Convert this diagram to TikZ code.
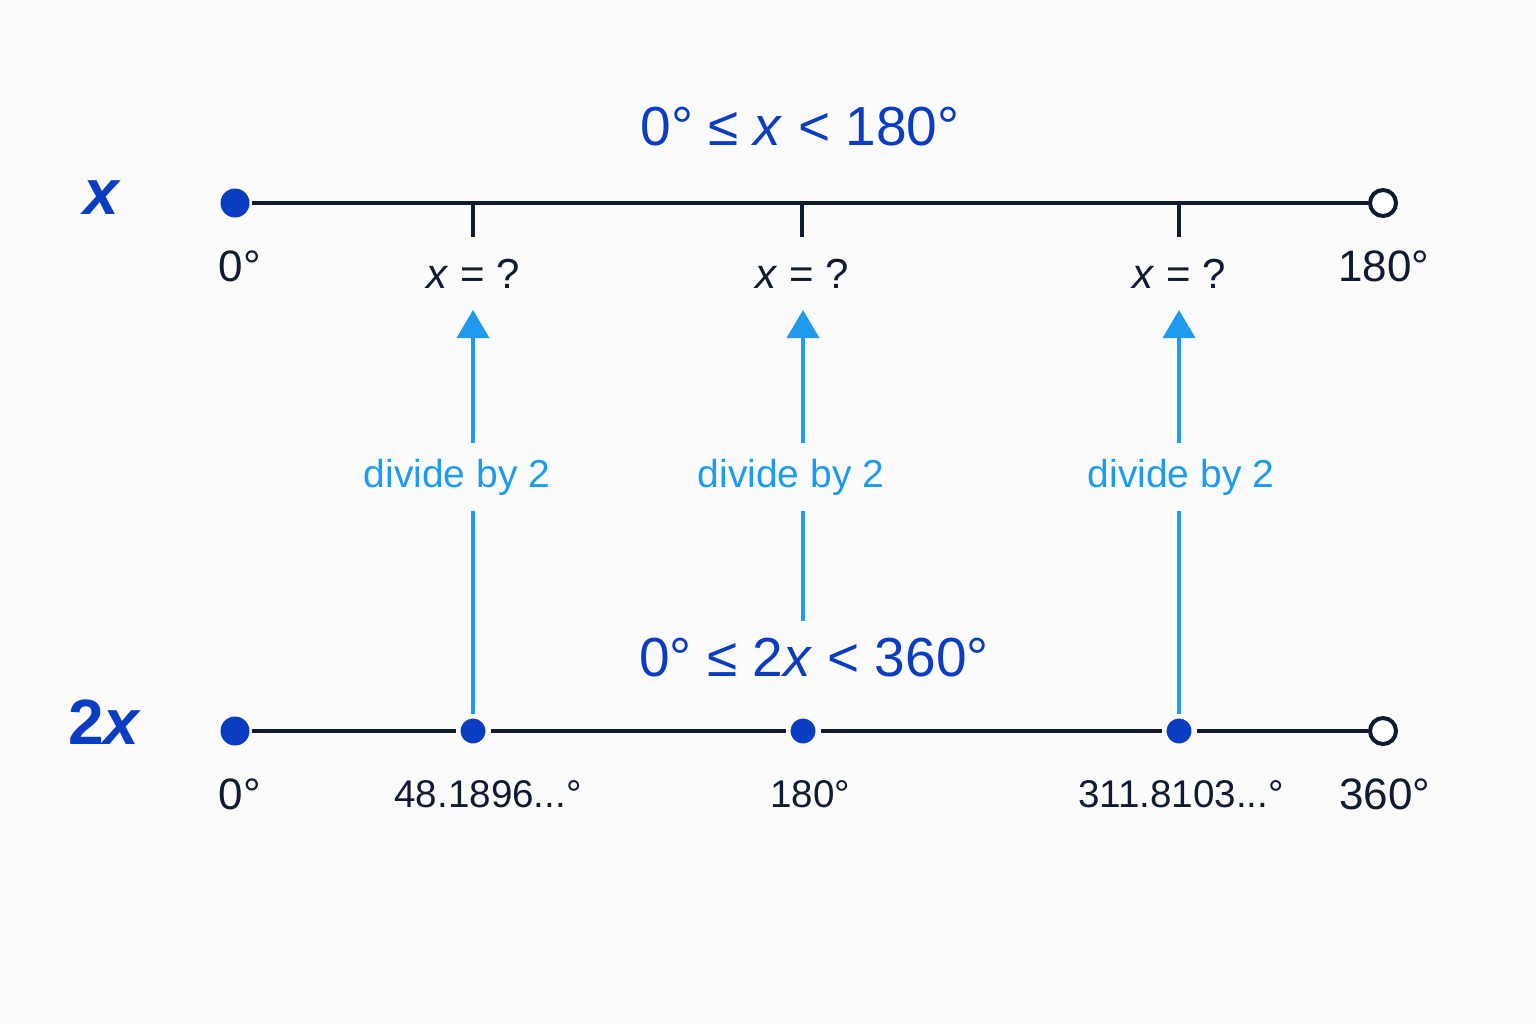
\documentclass[tikz,border=0pt]{standalone}
\usepackage{fontspec}
\setmainfont{Liberation Sans}
\usetikzlibrary{arrows.meta}
\definecolor{ink}{HTML}{101A30}
\definecolor{royal}{HTML}{0B3DC2}
\definecolor{sky}{HTML}{1E9BEF}
\definecolor{paper}{HTML}{FBFBFB}
\begin{document}
\begin{tikzpicture}[x=0.5pt,y=-0.5pt,>={Triangle[length=14pt,width=16pt]},line width=2pt]
  \tikzstyle{dot}=[circle, fill=royal, inner sep=0pt, minimum size=14.5pt]
  \tikzstyle{hit}=[circle, fill=royal, draw=paper, line width=2.5pt, inner sep=0pt, minimum size=15pt]
  \tikzstyle{hole}=[circle, draw=ink, fill=white, line width=2pt, inner sep=0pt, minimum size=13pt]
  \tikzstyle{limits}=[text=royal, font=\fontsize{27.5}{32}\selectfont]
  \tikzstyle{varname}=[text=royal, font=\fontsize{32}{36}\selectfont\bfseries]
  \tikzstyle{deg}=[text=ink, font=\fontsize{22}{26}\selectfont]
  \tikzstyle{rootlab}=[text=ink, font=\fontsize{19.3}{24}\selectfont]
  \tikzstyle{ask}=[text=ink, font=\fontsize{21}{25}\selectfont]
  \tikzstyle{halve}=[text=sky, font=\fontsize{19.5}{23}\selectfont, inner ysep=6.8pt]
  \fill[paper] (0,0) rectangle (1536,1024);
  \useasboundingbox (0,0) rectangle (1536,1024);

  % the x line
  \node[limits] (top) at (800,127) {0° ≤ \textit{x} < 180°};
  \node[varname] (xname) at (102,198) {\textit{x}};
  \node[dot] (z0) at (235,203) {};
  \node[hole] (e0) at (1383,203) {};
  \draw[ink] (z0) -- (e0);
  \node[deg] (z0lab) at (240,266) {0°};
  \node[deg] (e0lab) at (1384,266) {180°};
  \foreach \n/\px in {1/473,2/802,3/1179} {
    \coordinate (k\n) at (\px,203);
    \draw[ink] (k\n) -- ++(0,34);
    \node[ask] (q\n) at (\px,274) {\textit{x} = ?};
  }

  % the 2x line
  \node[limits, inner ysep=8pt] (low) at (814,658) {0° ≤ 2\textit{x} < 360°};
  \node[varname] (twoxname) at (105,722) {2\textit{x}};
  \node[dot] (z1) at (235,731) {};
  \node[hit] (m1) at (473,731) {};
  \node[hit] (m2) at (803,731) {};
  \node[hit] (m3) at (1179,731) {};
  \node[hole] (e1) at (1383,731) {};
  \draw[ink] (z1) -- (m1) -- (m2) -- (m3) -- (e1);
  \node[deg] (z1lab) at (240,794) {0°};
  \node[rootlab] (m1lab) at (488,794) {48.1896...°};
  \node[rootlab] (m2lab) at (810,794) {180°};
  \node[rootlab] (m3lab) at (1181,794) {311.8103...°};
  \node[deg] (e1lab) at (1385,794) {360°};

  % divide by 2
  \node[halve] (v1) at (457,477) {divide by 2};
  \node[halve] (v2) at (791,477) {divide by 2};
  \node[halve] (v3) at (1181,477) {divide by 2};
  \coordinate (t1) at (473,310);
  \coordinate (t2) at (803,310);
  \coordinate (t3) at (1179,310);
  \draw[sky] (m1) -- (m1 |- v1.south);
  \draw[sky] (m2 |- low.north) -- (m2 |- v2.south);
  \draw[sky] (m3) -- (m3 |- v3.south);
  \draw[sky,->] (t1 |- v1.north) -- (t1);
  \draw[sky,->] (t2 |- v2.north) -- (t2);
  \draw[sky,->] (t3 |- v3.north) -- (t3);
\end{tikzpicture}
\end{document}
